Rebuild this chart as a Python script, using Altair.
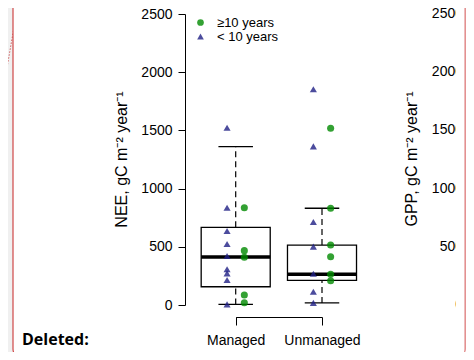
import altair as alt
import pandas as pd

# ---- data ----
groups = ["Managed", "Unmanaged"]
positions = [1, 2]
q1 = [157, 212]
median = [412, 264]
q3 = [667, 515]
whisker_lo = [5, 18]
whisker_hi = [1360, 831]

age_labels = ["\u226510 years", "< 10 years"]
managed_old = [836, 467, 410, 86, 20]
managed_young = [1523, 836, 636, 524, 421, 307, 272, 215, 5]
unmanaged_old = [1518, 831, 515, 415, 264, 209]
unmanaged_young = [1853, 1363, 713, 501, 269, 114, 18]

y_ticks = [0, 500, 1000, 1500, 2000, 2500]
nee_title = "NEE, gC m\u207b\u00b2 year\u207b\u00b9"
gpp_title = "GPP, gC m\u207b\u00b2 year\u207b\u00b9"

FONT = "Liberation Sans"
TRI = "#1f1f85"
CIR = "#008a00"

# ---- tables ----
box = pd.DataFrame({"group": groups, "pos": positions, "q1": q1, "med": median,
                    "q3": q3, "lo": whisker_lo, "hi": whisker_hi})

rows = []
for g, p, old, young in [(groups[0], positions[0], managed_old, managed_young),
                         (groups[1], positions[1], unmanaged_old, unmanaged_young)]:
    for v in young:
        rows.append({"group": g, "pos": p, "age": age_labels[1], "value": v, "side": -0.1})
    for v in old:
        rows.append({"group": g, "pos": p, "age": age_labels[0], "value": v, "side": 0.1})
pts = pd.DataFrame(rows)
ticks_df = pd.DataFrame({"v": y_ticks, "lab": [str(t) for t in y_ticks]})

W, H = 458, 344
xscale = alt.Scale(domain=[1, 2], range=[227.7, 314], nice=False, zero=False)
yscale = alt.Scale(domain=[0, 2500], range=[297, 6], nice=False, zero=False)

label_expr = " : ".join(f"datum.value == {p} ? '{g}'" for p, g in zip(positions, groups)) + " : ''"
xax = alt.Axis(values=positions, labelExpr=label_expr, offset=-35, tickSize=8,
               labelFontSize=14, labelFont=FONT, labelColor="black", labelPadding=8,
               domainColor="black", tickColor="black", grid=False, title=None,
               labelFlush=False, labelOverlap=False, zindex=2)
yax = alt.Axis(values=y_ticks, format="d", offset=-177, tickSize=7, labelFontSize=14,
               labelFont=FONT, labelColor="black", labelPadding=6, domainColor="black",
               tickColor="black", grid=False, title=nee_title, titleFont=FONT,
               titleFontSize=16, titleFontWeight="normal", titleColor="black",
               titleX=-64, titleY=151, titleAngle=270, titleAlign="center",
               titleBaseline="middle", labelFlush=False, labelOverlap=False, zindex=2)

def X(field):
    return alt.X(field, type="quantitative", scale=xscale, axis=xax)

def Y(field):
    return alt.Y(field, type="quantitative", scale=yscale, axis=yax)

base_box = alt.Chart(box).transform_calculate(
    left="datum.pos - 0.4", right="datum.pos + 0.4",
    capl="datum.pos - 0.2", capr="datum.pos + 0.2")

whisk_up = base_box.mark_rule(color="black", strokeWidth=1.2, strokeDash=[6, 4]).encode(
    x=X("pos"), y=Y("q3"), y2="hi")
whisk_dn = base_box.mark_rule(color="black", strokeWidth=1.2, strokeDash=[6, 4]).encode(
    x=X("pos"), y=Y("lo"), y2="q1")
cap_up = base_box.mark_rule(color="black", strokeWidth=1.3).encode(
    x=X("capl"), x2="capr", y=Y("hi"))
cap_dn = base_box.mark_rule(color="black", strokeWidth=1.3).encode(
    x=X("capl"), x2="capr", y=Y("lo"))
rect = base_box.mark_rect(fill="white", stroke="black", strokeWidth=1.3).encode(
    x=X("left"), x2="right", y=Y("q1"), y2="q3")
med = base_box.mark_rule(color="black", strokeWidth=3.5).encode(
    x=X("left"), x2="right", y=Y("med"))

leg = alt.Legend(orient="none", legendX=186, legendY=8, title=None,
                 labelFont=FONT, labelFontSize=13, labelColor="black",
                 symbolSize=45, rowPadding=0, labelOffset=10, symbolStrokeWidth=0)
points = alt.Chart(pts).transform_calculate(xp="datum.pos + datum.side").mark_point(
    filled=True, size=50, opacity=0.8).encode(
    x=X("xp"), y=Y("value"),
    color=alt.Color("age:N", scale=alt.Scale(domain=age_labels, range=[CIR, TRI]), legend=leg),
    shape=alt.Shape("age:N", scale=alt.Scale(domain=age_labels, range=["circle", "triangle-up"]),
                    legend=leg))

# second (clipped) panel on the right
gpp_labels = alt.Chart(ticks_df).mark_text(align="right", baseline="middle", fontSize=14,
                                           font=FONT, color="black").encode(
    x=alt.value(455), y=Y("v"), text="lab:N")
gpp_title_t = alt.Chart(pd.DataFrame({"t": [gpp_title]})).mark_text(
    angle=270, align="center", baseline="middle", fontSize=16, font=FONT, color="black").encode(
    x=alt.value(404), y=alt.value(151), text="t:N")
cover = alt.Chart(pd.DataFrame({"a": [0]})).mark_rect(fill="white").encode(
    x=alt.value(448), x2=alt.value(456.4), y=alt.value(0), y2=alt.value(H))

# page chrome
gray_l = alt.Chart(pd.DataFrame({"a": [0]})).mark_rect(fill="#f0f0f0").encode(
    x=alt.value(-8), x2=alt.value(5), y=alt.value(-8), y2=alt.value(H))
white_page = alt.Chart(pd.DataFrame({"a": [0]})).mark_rect(
    fill="white", stroke="#d04848", strokeWidth=1.2, cornerRadius=9).encode(
    x=alt.value(5), x2=alt.value(457), y=alt.value(-10), y2=alt.value(350))
dotted = alt.Chart(pd.DataFrame({"a": [0]})).mark_rule(
    color="#d06060", strokeWidth=1, strokeDash=[1.5, 1.5]).encode(
    x=alt.value(10), x2=alt.value(-10), y=alt.value(-4), y2=alt.value(112))
deleted = alt.Chart(pd.DataFrame({"t": ["Deleted:"]})).mark_text(
    align="left", baseline="alphabetic", fontSize=16, font="Open Sans", fontWeight="bold",
    color="black").encode(x=alt.value(14), y=alt.value(337), text="t:N")

chart = alt.layer(
    gray_l, dotted, white_page, deleted,
    gpp_labels, gpp_title_t, cover,
    whisk_up, whisk_dn, cap_up, cap_dn, rect, med, points
).properties(width=W, height=H, autosize=alt.AutoSizeParams(type="none"), padding=0
).configure_view(stroke=None)

chart.save("out.html", embed_options={"renderer": "svg", "actions": False})
